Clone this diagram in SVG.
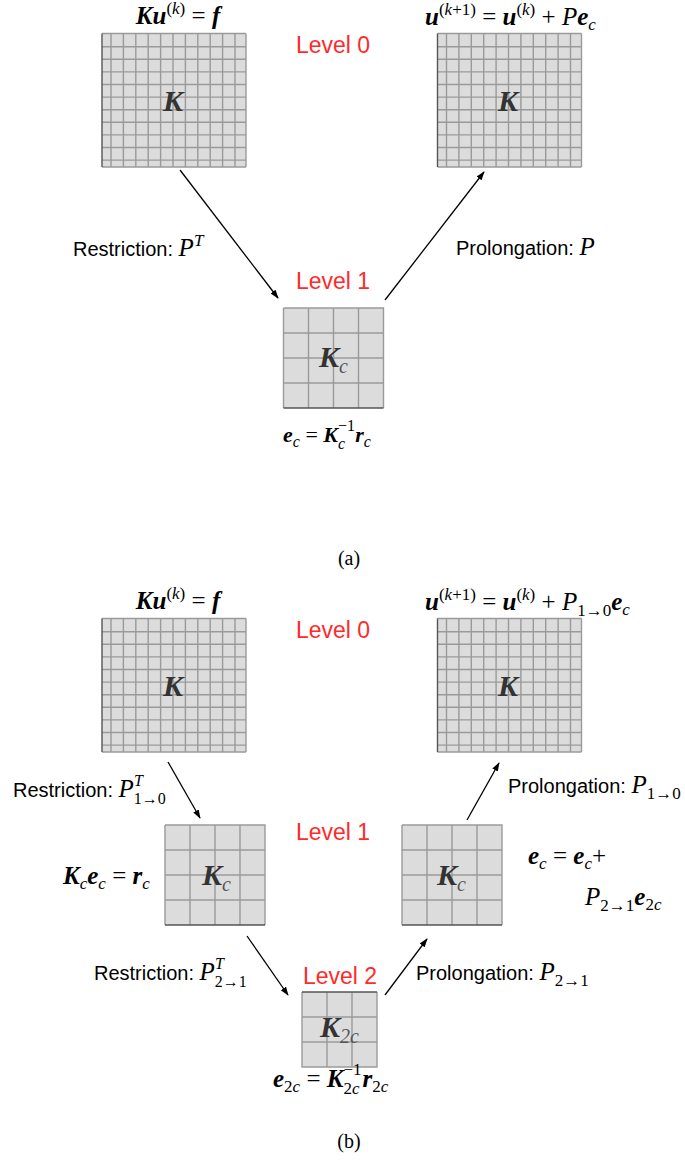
<svg xmlns="http://www.w3.org/2000/svg" width="685" height="1163" viewBox="0 0 685 1163">
<style>
.m{font-family:"Liberation Serif","Times New Roman",serif;font-size:25px;fill:#000}
.b{font-weight:bold;font-style:italic}
.i{font-style:italic}
.s{font-size:17px}
.t{font-size:16px}
.lv{font-family:"Liberation Sans",Arial,sans-serif;font-size:23px;fill:#ff2a2a}
.lb{font-family:"Liberation Sans",Arial,sans-serif;font-size:20px;fill:#000}
.gk{font-family:"Liberation Serif","Times New Roman",serif;font-weight:bold;font-style:italic;font-size:30px;fill:#333}
.gs{font-family:"Liberation Serif","Times New Roman",serif;font-style:italic;font-weight:normal;font-size:20px;fill:#555}
.cap{font-family:"Liberation Serif","Times New Roman",serif;font-size:20px;fill:#000}
.gl{stroke:#9a9a9a;stroke-width:1.4;fill:none}
.cell{fill:#dcdcdc}
.edge{stroke:#555;stroke-width:1.4}
.conn line{stroke:#000;stroke-width:1.3;marker-end:url(#ah)}
</style>
<defs>
<marker id="ah" viewBox="0 0 10 10" refX="9" refY="5" markerWidth="9" markerHeight="9" markerUnits="userSpaceOnUse" orient="auto"><path d="M0,1.5 L10,5 L0,8.5 z" fill="#000"/></marker>
<g id="big">
<rect class="cell" width="144" height="133.5"/>
<path class="gl" d="M9 0V133.5M21.4 0V133.5M33.8 0V133.5M46.2 0V133.5M58.6 0V133.5M71 0V133.5M83.4 0V133.5M95.8 0V133.5M108.2 0V133.5M120.6 0V133.5M133 0V133.5M0 13.2H144M0 25.8H144M0 38.4H144M0 51H144M0 63.6H144M0 76.2H144M0 88.8H144M0 101.4H144M0 114H144M0 126.6H144M144 0V133.5M0 0H144M0 133.5H144"/>
<path class="edge" d="M0 0V133.5"/>
</g>
<g id="g4">
<rect class="cell" width="100" height="100"/>
<path class="gl" d="M0 0H100V100M0 0V100M25 0V100M50 0V100M75 0V100M0 25H100M0 50H100M0 75H100"/>
<path class="edge" d="M0 100H100"/>
</g>
<g id="g3">
<rect class="cell" width="75" height="75"/>
<path class="gl" d="M0 0V75H75V0M25 0V75M50 0V75M0 25H75M0 50H75"/>
<path class="edge" d="M0 0H75"/>
</g>
</defs>

<!-- (a) -->
<g id="a-level0-left">
<use href="#big" x="102" y="33.5"/>
<text class="gk" x="173" y="111" text-anchor="middle">K</text>
<text class="m" x="178" y="24" text-anchor="middle"><tspan class="b">Ku</tspan><tspan class="s" dy="-10">(<tspan class="i">k</tspan>)</tspan><tspan dy="10"> = </tspan><tspan class="b">f</tspan></text>
</g>
<g id="a-level0-right">
<use href="#big" x="437.5" y="33.5"/>
<text class="gk" x="508" y="111" text-anchor="middle">K</text>
<text class="m" x="425" y="25"><tspan class="b">u</tspan><tspan class="s" dy="-10">(<tspan class="i">k</tspan>+1)</tspan><tspan dy="10"> = </tspan><tspan class="b">u</tspan><tspan class="s" dy="-10">(<tspan class="i">k</tspan>)</tspan><tspan dy="10"> + </tspan><tspan class="i">P</tspan><tspan class="b">e</tspan><tspan class="s i" dy="5">c</tspan></text>
</g>
<text id="a-lv0" class="lv" x="333" y="53" text-anchor="middle">Level 0</text>
<text id="a-lv1" class="lv" x="333" y="289" text-anchor="middle">Level 1</text>
<g id="a-level1">
<use href="#g4" x="283.5" y="308"/>
<text class="gk" x="319" y="367">K<tspan class="gs" dy="6">c</tspan></text>
<text class="m" x="283" y="442" style="font-size:22px"><tspan class="b">e</tspan><tspan class="t i" dy="5">c</tspan><tspan dy="-5"> = </tspan><tspan class="b">K</tspan><tspan class="t" dy="-11">−1</tspan><tspan class="t i" dx="-17" dy="18">c</tspan><tspan class="b" dx="10" dy="-7">r</tspan><tspan class="t i" dy="5">c</tspan></text>
</g>
<text id="a-restr" class="lb" x="73" y="256">Restriction: <tspan class="m i">P</tspan><tspan class="m i s" dy="-10">T</tspan></text>
<text id="a-prol" class="lb" x="456" y="255">Prolongation: <tspan class="m i">P</tspan></text>
<text id="cap-a" class="cap" x="349" y="565" text-anchor="middle">(a)</text>

<!-- (b) -->
<g id="b-level0-left">
<use href="#big" x="102" y="618.5"/>
<text class="gk" x="173" y="696" text-anchor="middle">K</text>
<text class="m" x="178" y="609" text-anchor="middle"><tspan class="b">Ku</tspan><tspan class="s" dy="-10">(<tspan class="i">k</tspan>)</tspan><tspan dy="10"> = </tspan><tspan class="b">f</tspan></text>
</g>
<g id="b-level0-right">
<use href="#big" x="437.5" y="618.5"/>
<text class="gk" x="508" y="696" text-anchor="middle">K</text>
<text class="m" x="425" y="610"><tspan class="b">u</tspan><tspan class="s" dy="-10">(<tspan class="i">k</tspan>+1)</tspan><tspan dy="10"> = </tspan><tspan class="b">u</tspan><tspan class="s" dy="-10">(<tspan class="i">k</tspan>)</tspan><tspan dy="10"> + </tspan><tspan class="i">P</tspan><tspan class="s" dy="6">1→0</tspan><tspan class="b" dy="-6">e</tspan><tspan class="s i" dy="5">c</tspan></text>
</g>
<text id="b-lv0" class="lv" x="333" y="638" text-anchor="middle">Level 0</text>
<text id="b-lv1" class="lv" x="333" y="840" text-anchor="middle">Level 1</text>
<text id="b-lv2" class="lv" x="340" y="984" text-anchor="middle">Level 2</text>

<g id="b-level1-left">
<use href="#g4" x="165" y="825"/>
<text class="gk" x="202" y="885">K<tspan class="gs" dy="6">c</tspan></text>
<text class="m" x="63" y="884"><tspan class="b">K</tspan><tspan class="s i" dy="5">c</tspan><tspan class="b" dy="-5">e</tspan><tspan class="s i" dy="5">c</tspan><tspan dy="-5"> = </tspan><tspan class="b">r</tspan><tspan class="s i" dy="5">c</tspan></text>
</g>
<g id="b-level1-right">
<use href="#g4" x="402" y="825"/>
<text class="gk" x="437" y="885">K<tspan class="gs" dy="6">c</tspan></text>
<text class="m" x="528" y="864"><tspan class="b">e</tspan><tspan class="s i" dy="5">c</tspan><tspan dy="-5"> = </tspan><tspan class="b">e</tspan><tspan class="s i" dy="5">c</tspan><tspan dy="-5">+</tspan></text>
<text class="m" x="585" y="905"><tspan class="i">P</tspan><tspan class="s" dy="6">2→1</tspan><tspan class="b" dy="-6">e</tspan><tspan class="s" dy="5">2<tspan class="i">c</tspan></tspan></text>
</g>
<g id="b-level2">
<use href="#g3" x="302" y="992"/>
<text class="gk" x="320" y="1037">K<tspan class="gs" dy="6">2<tspan class="i">c</tspan></tspan></text>
<text class="m" x="273" y="1087"><tspan class="b">e</tspan><tspan class="s" dy="5">2<tspan class="i">c</tspan></tspan><tspan dy="-5"> = </tspan><tspan class="b">K</tspan><tspan class="s" dy="-12">−1</tspan><tspan class="s" dx="-18" dy="19">2<tspan class="i">c</tspan></tspan><tspan class="b" dx="3" dy="-7">r</tspan><tspan class="s" dy="5">2<tspan class="i">c</tspan></tspan></text>
</g>
<text id="b-restr1" class="lb" x="13" y="797">Restriction: <tspan class="m i">P</tspan><tspan class="m i t" dy="-11">T</tspan><tspan class="m t" dx="-9" dy="18">1→0</tspan></text>
<text id="b-prol1" class="lb" x="508" y="793">Prolongation: <tspan class="m i">P</tspan><tspan class="m s" dy="6">1→0</tspan></text>
<text id="b-restr2" class="lb" x="94" y="980">Restriction: <tspan class="m i">P</tspan><tspan class="m i t" dy="-11">T</tspan><tspan class="m t" dx="-9" dy="18">2→1</tspan></text>
<text id="b-prol2" class="lb" x="416" y="980">Prolongation: <tspan class="m i">P</tspan><tspan class="m s" dy="6">2→1</tspan></text>
<text id="cap-b" class="cap" x="349" y="1148" text-anchor="middle">(b)</text>

<g id="connectors" class="conn">
<line x1="180" y1="170" x2="278" y2="298"/>
<line x1="385" y1="300" x2="484" y2="172"/>
<line x1="168" y1="762" x2="200" y2="818"/>
<line x1="467" y1="820" x2="499" y2="763"/>
<line x1="247" y1="936" x2="288" y2="995"/>
<line x1="385" y1="995" x2="427" y2="939"/>
</g>
</svg>
